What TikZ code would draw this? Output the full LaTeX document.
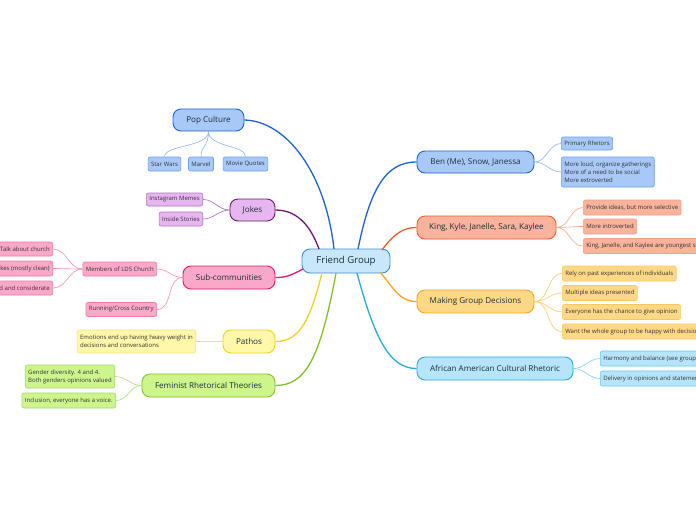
\documentclass[tikz,border=0pt]{standalone}
\usepackage{fontspec}
\setmainfont{Open Sans}
\usetikzlibrary{calc}
\definecolor{txt}{HTML}{1B2E3A}
\definecolor{stxt}{HTML}{333333}
\definecolor{fgF}{HTML}{C8E7FA}\definecolor{fgD}{HTML}{3F8FD2}
\definecolor{blF}{HTML}{A8C9F8}\definecolor{blD}{HTML}{1D63D3}\definecolor{blS}{HTML}{6E9FEE}\definecolor{blL}{HTML}{8CB4F4}
\definecolor{orF}{HTML}{F9B29C}\definecolor{orD}{HTML}{F05B2A}\definecolor{orS}{HTML}{F5A184}\definecolor{orL}{HTML}{F7A58C}
\definecolor{ywF}{HTML}{FFD886}\definecolor{ywD}{HTML}{F5A623}\definecolor{ywS}{HTML}{FBC860}\definecolor{ywL}{HTML}{FBCB70}
\definecolor{cyF}{HTML}{B6E4FB}\definecolor{cyD}{HTML}{29A9E1}\definecolor{cyS}{HTML}{6CC6EE}\definecolor{cyL}{HTML}{7FCDF0}
\definecolor{puF}{HTML}{E7B6F0}\definecolor{puD}{HTML}{6A1A6E}\definecolor{puS}{HTML}{B07ABD}\definecolor{puL}{HTML}{A66AAE}
\definecolor{pkF}{HTML}{F9A8C8}\definecolor{pkD}{HTML}{E6186B}\definecolor{pkS}{HTML}{F07CA8}\definecolor{pkL}{HTML}{F48FB6}
\definecolor{lyF}{HTML}{FFF8AA}\definecolor{lyD}{HTML}{F2D31B}\definecolor{lyS}{HTML}{F5E27A}\definecolor{lyL}{HTML}{F5E070}
\definecolor{grF}{HTML}{CDF58C}\definecolor{grD}{HTML}{84BF2C}\definecolor{grS}{HTML}{A8D86A}\definecolor{grL}{HTML}{B0DB78}
\tikzset{
  mainnode/.style={draw, line width=0.9pt, rounded corners=8pt, inner sep=0pt,
    minimum height=23pt, font=\fontsize{8.1}{9.5}\selectfont, text=txt},
  subnode/.style={draw, line width=0.6pt, rounded corners=2pt, inner xsep=3pt, inner ysep=0pt,
    minimum height=14pt, font=\fontsize{6}{8}\selectfont, align=left, text=stxt},
  mainlink/.style={line width=1.3pt},
  sublink/.style={line width=0.6pt},
}
\begin{document}
\begin{tikzpicture}[x=1pt,y=-1pt]
\useasboundingbox (0,0) rectangle (696,520);
\fill[white] (0,0) rectangle (696,520);
\clip (0,0) rectangle (696,520);

% central
\node[mainnode, fill=fgF, draw=fgD, minimum width=88pt, minimum height=24pt, font=\fontsize{9.6}{11}\selectfont] (fg) at (346,261) {Friend Group};

% right main
\node[mainnode, fill=blF, draw=blD, minimum width=117pt, minimum height=22pt] (ben) at (475.5,162) {Ben (Me), Snow, Janessa};
\node[mainnode, fill=orF, draw=orD, minimum width=139pt] (king) at (486.5,227.5) {King, Kyle, Janelle, Sara, Kaylee};
\node[mainnode, fill=ywF, draw=ywD, minimum width=117pt] (mgd) at (475.5,301.5) {Making Group Decisions};
\node[mainnode, fill=cyF, draw=cyD, minimum width=156pt] (aacr) at (495,368.5) {African American Cultural Rhetoric};

% left main
\node[mainnode, fill=blF, draw=blD, minimum width=71pt, minimum height=22pt] (pop) at (208.5,120) {Pop Culture};
\node[mainnode, fill=puF, draw=puD, minimum width=45pt, minimum height=22pt] (jokes) at (252.5,210) {Jokes};
\node[mainnode, fill=pkF, draw=pkD, minimum width=92pt] (subc) at (229,277.5) {Sub-communities};
\node[mainnode, fill=lyF, draw=lyD, minimum width=52pt] (pathos) at (249,341.5) {Pathos};
\node[mainnode, fill=grF, draw=grD, minimum width=133pt] (fem) at (208.5,385.5) {Feminist Rhetorical Theories};

% right sub nodes
\node[subnode, fill=blF, draw=blS, anchor=west, minimum height=13pt] (pr) at (561,143.5) {Primary Rhetors};
\node[subnode, fill=blF, draw=blS, anchor=west, minimum height=30pt] (ml) at (561,172) {More loud, organize gatherings\\More of a need to be social\\More extroverted};
\node[subnode, fill=orF, draw=orS, anchor=west, minimum height=15pt] (pi) at (583,207.5) {Provide ideas, but more selective};
\node[subnode, fill=orF, draw=orS, anchor=west, minimum height=15pt] (mi) at (583,226.5) {More introverted};
\node[subnode, fill=orF, draw=orS, anchor=west, minimum height=15pt] (kj) at (583,246) {King, Janelle, and Kaylee are youngest siblings};
\node[subnode, fill=ywF, draw=ywS, anchor=west, minimum height=15pt] (rp) at (562,273.5) {Rely on past experiences of individuals};
\node[subnode, fill=ywF, draw=ywS, anchor=west, minimum height=15pt] (mip) at (562,293) {Multiple ideas presented};
\node[subnode, fill=ywF, draw=ywS, anchor=west, minimum height=15pt] (ev) at (562,312) {Everyone has the chance to give opinion};
\node[subnode, fill=ywF, draw=ywS, anchor=west, minimum height=15pt] (ww) at (562,331.5) {Want the whole group to be happy with decisions};
\node[subnode, fill=cyF, draw=cyS, anchor=west, minimum height=15pt] (hb) at (600,358.5) {Harmony and balance (see group decisions)};
\node[subnode, fill=cyF, draw=cyS, anchor=west, minimum height=15pt] (dl) at (600,378.5) {Delivery in opinions and statements};

% pop culture children
\node[subnode, fill=blF, draw=blS] (sw) at (164.5,164) {Star Wars};
\node[subnode, fill=blF, draw=blS] (mv) at (201,164) {Marvel};
\node[subnode, fill=blF, draw=blS] (mq) at (245.5,164) {Movie Quotes};

% left sub nodes
\node[subnode, fill=puF, draw=puS, anchor=east, minimum height=13pt] (im) at (203,199.5) {Instagram Memes};
\node[subnode, fill=puF, draw=puS, anchor=east] (is) at (203,219) {Inside Stories};
\node[subnode, fill=pkF, draw=pkS, anchor=east] (lds) at (157,269) {Members of LDS Church};
\node[subnode, fill=pkF, draw=pkS, anchor=east] (run) at (157,309.5) {Running/Cross Country};
\node[subnode, fill=pkF, draw=pkS, anchor=east] (tc) at (53,249) {Talk about church};
\node[subnode, fill=pkF, draw=pkS, anchor=east, minimum height=15pt] (jk) at (53,268.5) {Tell jokes (mostly clean)};
\node[subnode, fill=pkF, draw=pkS, anchor=east] (kc) at (53,288) {Kind and considerate};
\node[subnode, fill=lyF, draw=lyS, anchor=east, minimum height=23pt] (emo) at (196,341.5) {Emotions end up having heavy weight in\\decisions and conversations};
\node[subnode, fill=grF, draw=grS, anchor=east, minimum height=23pt] (gd) at (115,376.5) {Gender diversity. 4 and 4.\\Both genders opinions valued};
\node[subnode, fill=grF, draw=grS, anchor=east, minimum height=15pt] (inc) at (116,400.5) {Inclusion, everyone has a voice.};

% main links
\draw[mainlink, blD] ($(fg.center)+(-12,-12)$) .. controls (325,170) and (285,121) .. (pop.east);
\draw[mainlink, puD] ($(fg.center)+(-27,-12)$) .. controls (312,230) and (300,210) .. (jokes.east);
\draw[mainlink, pkD] ($(fg.center)+(-43,8)$) .. controls (290,276) and (285,277.5) .. (subc.east);
\draw[mainlink, lyD] ($(fg.center)+(-24,12)$) .. controls (310,320) and (300,341.5) .. (pathos.east);
\draw[mainlink, grD] ($(fg.center)+(-10,12)$) .. controls (320,360) and (305,385.5) .. (fem.east);
\draw[mainlink, blD] ($(fg.center)+(12,-12)$) .. controls (370,190) and (385,162) .. (ben.west);
\draw[mainlink, orD] ($(fg.center)+(36,-11)$) .. controls (395,232) and (405,227.5) .. (king.west);
\draw[mainlink, ywD] ($(fg.center)+(34,11)$) .. controls (395,290) and (400,301.5) .. (mgd.west);
\draw[mainlink, cyD] ($(fg.center)+(11,12)$) .. controls (375,340) and (390,368.5) .. (aacr.west);

% sub links right
\foreach \c in {pr,ml} \draw[sublink, blL] (ben.east) to[out=0,in=180] (\c.west);
\foreach \c in {pi,mi,kj} \draw[sublink, orL] (king.east) to[out=0,in=180] (\c.west);
\foreach \c in {rp,mip,ev,ww} \draw[sublink, ywL] (mgd.east) to[out=0,in=180] (\c.west);
\foreach \c in {hb,dl} \draw[sublink, cyL] (aacr.east) to[out=0,in=180] (\c.west);

% sub links left
\foreach \c in {im,is} \draw[sublink, puL] (jokes.west) to[out=180,in=0] (\c.east);
\foreach \c in {lds,run} \draw[sublink, pkL] (subc.west) to[out=180,in=0] (\c.east);
\foreach \c in {tc,jk,kc} \draw[sublink, pkL] (lds.west) to[out=180,in=0] (\c.east);
\draw[sublink, lyL] (pathos.west) -- (emo.east);
\foreach \c in {gd,inc} \draw[sublink, grL] (fem.west) to[out=180,in=0] (\c.east);

% pop culture children links
\foreach \c in {sw,mv,mq} \draw[sublink, blL] (pop.south) .. controls ($(pop.south)+(0,16)$) and ($(\c.north)+(0,-12)$) .. (\c.north);
\end{tikzpicture}
\end{document}
